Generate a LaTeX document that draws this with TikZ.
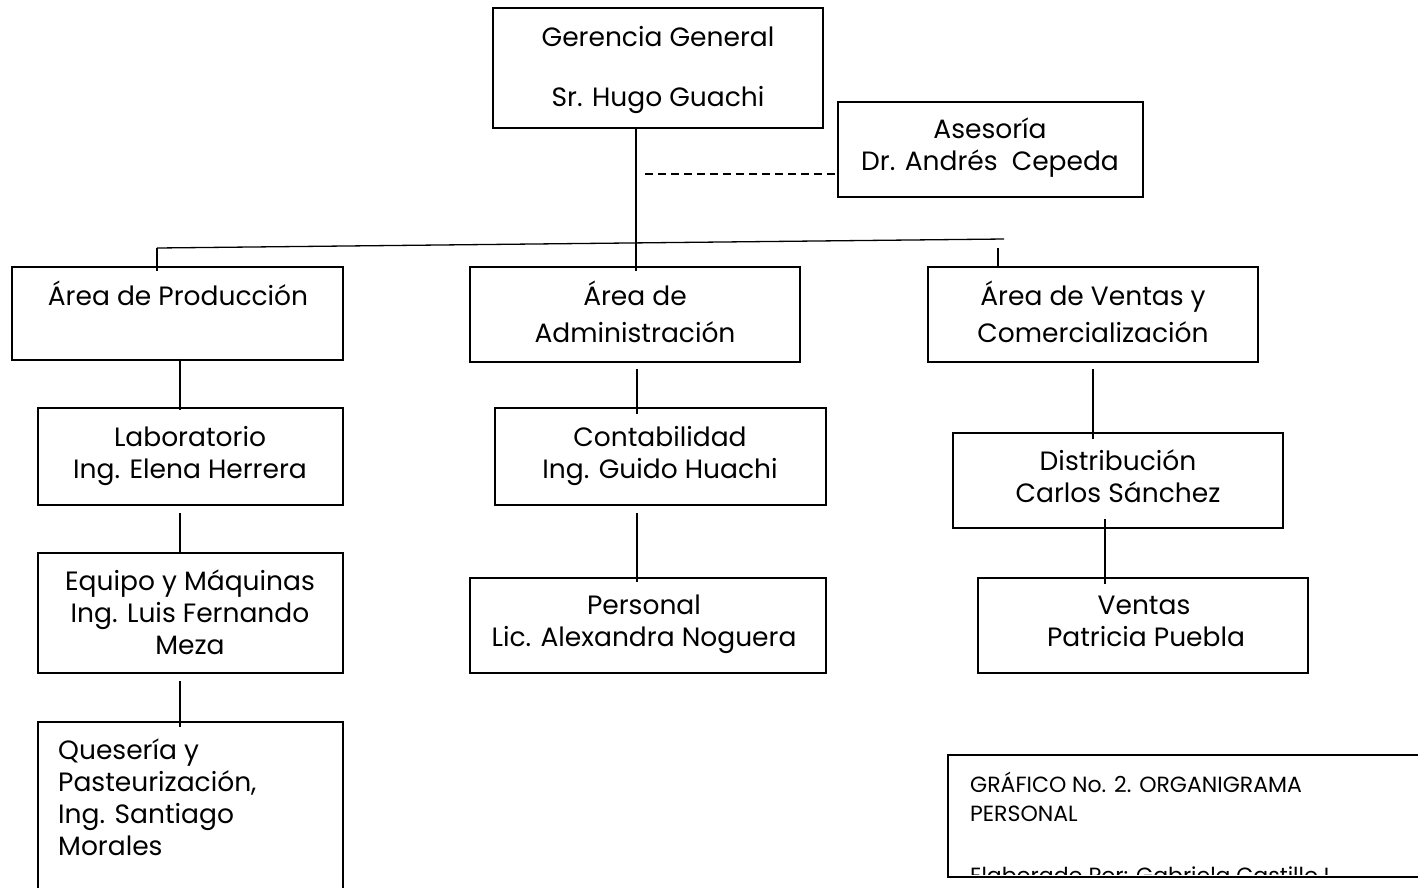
\documentclass[tikz,border=0pt]{standalone}
\usepackage{fontspec}
\setmainfont{Poppins}
\begin{document}
\begin{tikzpicture}[x=1pt,y=-1pt,
  box/.style={draw, line width=1.6pt, inner sep=0pt},
  conn/.style={line width=1.3pt},
  dconn/.style={line width=1.3pt, dash pattern=on 8pt off 5pt},
  txt/.style={anchor=base, inner sep=0pt, font=\fontsize{26.5}{30}\selectfont},
  ltxt/.style={anchor=base west, inner sep=0pt, font=\fontsize{26.5}{30}\selectfont},
  ctxt/.style={anchor=base west, inner sep=0pt, font=\fontsize{22}{26}\selectfont}]
\useasboundingbox (0,0) rectangle (1418,887);
\fill[white] (0,0) rectangle (1418,887);
% boxes
\node[box, minimum width=330pt, minimum height=120pt] (ger) at (658,68) {};
\node[box, minimum width=305pt, minimum height=95pt] (ase) at (990.5,149.5) {};
\node[box, minimum width=331pt, minimum height=93pt] (prod) at (177.5,313.5) {};
\node[box, minimum width=330pt, minimum height=95pt] (adm) at (635,314.5) {};
\node[box, minimum width=330pt, minimum height=95pt] (ven) at (1093,314.5) {};
\node[box, minimum width=305pt, minimum height=97pt] (lab) at (190.5,456.5) {};
\node[box, minimum width=305pt, minimum height=120pt] (equ) at (190.5,613) {};
\node[box, minimum width=305pt, minimum height=178pt] (ques) at (190.5,811) {};
\node[box, minimum width=331pt, minimum height=97pt] (cont) at (660.5,456.5) {};
\node[box, minimum width=356pt, minimum height=95pt] (pers) at (648,625.5) {};
\node[box, minimum width=330pt, minimum height=95pt] (dist) at (1118,480.5) {};
\node[box, minimum width=330pt, minimum height=95pt] (vent) at (1143,625.5) {};
% texts
\node[txt] (t1) at (658,46) {Gerencia General};
\node[txt] (t2) at (658,106) {Sr. Hugo Guachi};
\node[txt] (t3) at (990,138) {Asesoría};
\node[txt] (t4) at (990,170) {Dr. Andrés\ \ Cepeda};
\node[txt] (t5) at (178,305) {Área de Producción};
\node[txt] (t6) at (635,305) {Área de};
\node[txt] (t7) at (635,342) {Administración};
\node[txt] (t8) at (1093,305) {Área de Ventas y};
\node[txt] (t9) at (1093,342) {Comercialización};
\node[txt] (t10) at (190,446) {Laboratorio};
\node[txt] (t11) at (190,478) {Ing. Elena Herrera};
\node[txt] (t12) at (190,590) {Equipo y Máquinas};
\node[txt] (t13) at (190,622) {Ing. Luis Fernando};
\node[txt] (t14) at (190,654) {Meza};
\node[ltxt] (t15) at (58,759) {Quesería y};
\node[ltxt] (t16) at (58,791) {Pasteurización,};
\node[ltxt] (t17) at (58,823) {Ing. Santiago};
\node[ltxt] (t18) at (58,855) {Morales};
\node[txt] (t19) at (660,446) {Contabilidad};
\node[txt] (t20) at (660,478) {Ing. Guido Huachi};
\node[txt] (t21) at (644,614) {Personal};
\node[txt] (t22) at (644,646) {Lic. Alexandra Noguera};
\node[txt] (t23) at (1118,470) {Distribución};
\node[txt] (t24) at (1118,502) {Carlos Sánchez};
\node[txt] (t25) at (1144,614) {Ventas};
\node[txt] (t26) at (1146,646) {Patricia Puebla};
% caption box
\begin{scope}
\clip (948,755) rectangle (1418,874);
\node[ctxt] (c3) at (970,883) {Elaborado Por: Gabriela Castillo I.};
\end{scope}
\node[ctxt] (c1) at (970,792) {GRÁFICO No. 2. ORGANIGRAMA};
\node[ctxt] (c2) at (970,821) {PERSONAL};
\draw[line width=1.6pt] (1430,755) -- (948,755) -- (948,877) -- (1430,877);
\coordinate (cap) at (1189,816);
% connectors
\coordinate (h1) at (157,248);
\coordinate (h2) at (1004,239);
\coordinate (hm) at (636,243);
\coordinate (hr) at (998,248);
\draw[conn] (ger.south -| hm) -- ([yshift=-5pt]adm.north -| hm);
\draw[conn] (h1) -- (h2);
\draw[conn] (h1) -- ([yshift=-5pt]prod.north -| h1);
\draw[conn] (hr) -- (ven.north -| hr);
\draw[dconn] (645,174) coordinate (d1) -- (ase.west |- d1);
\draw[conn] ([yshift=2pt]prod.south -| 180,0) -- ([yshift=-3pt]lab.north -| 180,0);
\draw[conn] ([yshift=-7pt]lab.south -| 180,0) -- (equ.north -| 180,0);
\draw[conn] ([yshift=-7pt]equ.south -| 180,0) -- ([yshift=-6pt]ques.north -| 180,0);
\draw[conn] ([yshift=-6pt]adm.south -| 637,0) -- ([yshift=-7pt]cont.north -| 637,0);
\draw[conn] ([yshift=-7pt]cont.south -| 637,0) -- ([yshift=-5pt]pers.north -| 637,0);
\draw[conn] ([yshift=-6pt]ven.south -| 1093,0) -- ([yshift=-7pt]dist.north -| 1093,0);
\draw[conn] ([yshift=10pt]dist.south -| 1105,0) -- ([yshift=-7pt]vent.north -| 1105,0);
\end{tikzpicture}
\end{document}
